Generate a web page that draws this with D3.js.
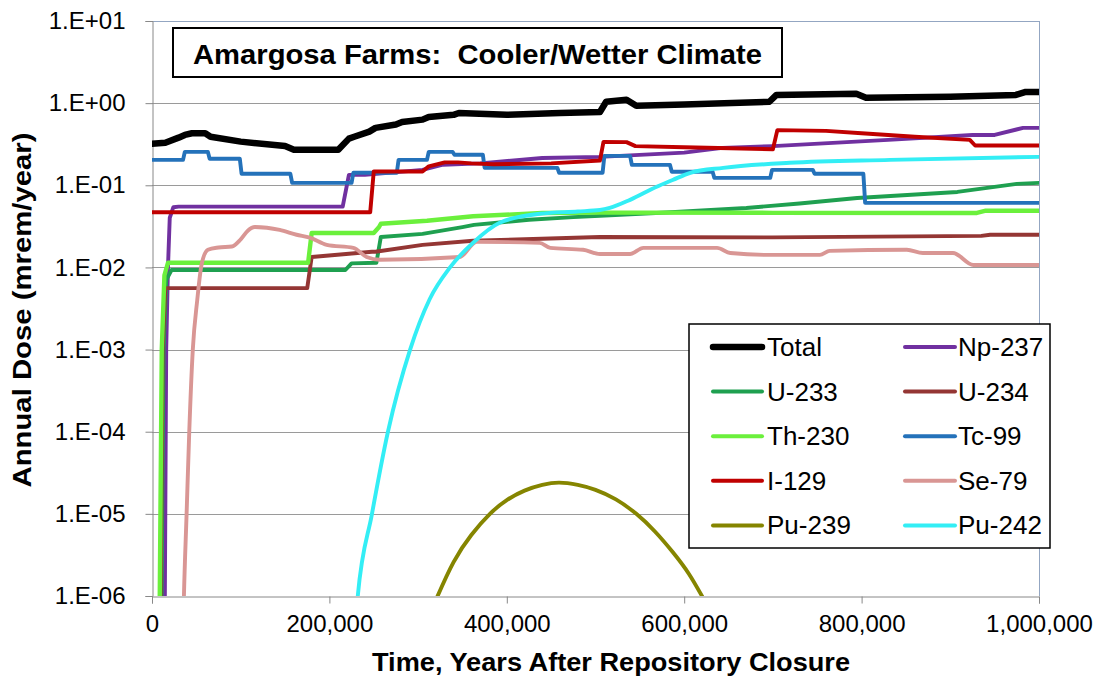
<!DOCTYPE html>
<html><head><meta charset="utf-8">
<script src="https://cdn.jsdelivr.net/npm/d3@7"></script>
<style>
html,body{margin:0;padding:0;background:#fff;}
svg{display:block;font-family:Arial,"Liberation Sans",sans-serif;}
text{white-space:pre;}
</style></head>
<body>
<svg id="chart" width="1105" height="681"></svg>
<script>
// ---------- DATA (years after closure, annual dose mrem/yr) ----------
const seriesNames = ["Total","Np-237","U-233","U-234","Th-230","Tc-99","I-129","Se-79","Pu-239","Pu-242"];
const totalDose = [[0,0.32],[15e3,0.33],[30e3,0.38],[37e3,0.41],[45e3,0.43],[60e3,0.43],[66e3,0.39],[100e3,0.34],[150e3,0.30],[160e3,0.27],[210e3,0.27],[222e3,0.37],[228e3,0.39],[245e3,0.45],[252e3,0.50],[275e3,0.55],[282e3,0.59],[305e3,0.63],[312e3,0.68],[340e3,0.72],[346e3,0.76],[400e3,0.72],[460e3,0.76],[505e3,0.78],[512e3,1.04],[535e3,1.10],[546e3,0.93],[600e3,0.96],[696e3,1.04],[704e3,1.26],[794e3,1.30],[805e3,1.16],[900e3,1.20],[974e3,1.26],[985e3,1.37],[1000e3,1.37]];
const np237Dose = [[14e3,1e-7],[16e3,1e-3],[18e3,0.01],[20e3,0.04],[24e3,0.054],[30e3,0.055],[215e3,0.055],[222e3,0.134],[240e3,0.134],[305e3,0.154],[328e3,0.178],[370e3,0.185],[440e3,0.215],[505e3,0.222],[600e3,0.25],[643e3,0.285],[700e3,0.30],[830e3,0.357],[925e3,0.41],[950e3,0.41],[982e3,0.5],[1000e3,0.5]];
const u233Dose = [[10e3,1e-7],[13e3,1e-3],[16e3,0.007],[22e3,0.0093],[218e3,0.0093],[225e3,0.0112],[253e3,0.0114],[258e3,0.0235],[305e3,0.0256],[350e3,0.031],[363e3,0.033],[425e3,0.038],[475e3,0.041],[505e3,0.0424],[585e3,0.047],[670e3,0.053],[730e3,0.06],[795e3,0.07],[908e3,0.083],[975e3,0.104],[1000e3,0.107]];
const u234Dose = [[9e3,1e-7],[12e3,1e-3],[15e3,0.0056],[175e3,0.0056],[180e3,0.0134],[248e3,0.0155],[252e3,0.0155],[305e3,0.0188],[362e3,0.0211],[505e3,0.0235],[700e3,0.0232],[935e3,0.0242],[945e3,0.025],[1000e3,0.025]];
const th230Dose = [[8e3,1e-7],[11e3,1e-3],[14e3,0.008],[18e3,0.0114],[176e3,0.0114],[180e3,0.0263],[250e3,0.0263],[256e3,0.031],[258e3,0.034],[310e3,0.037],[362e3,0.042],[440e3,0.046],[505e3,0.0465],[700e3,0.0462],[930e3,0.046],[940e3,0.049],[1000e3,0.049]];
const tc99Dose = [[0,0.204],[35e3,0.204],[37e3,0.255],[63e3,0.255],[65e3,0.21],[99e3,0.21],[101e3,0.138],[156e3,0.138],[158e3,0.107],[225e3,0.107],[227e3,0.142],[276e3,0.142],[278e3,0.204],[310e3,0.204],[312e3,0.255],[339e3,0.255],[341e3,0.235],[373e3,0.235],[375e3,0.163],[457e3,0.163],[459e3,0.142],[508e3,0.142],[510e3,0.228],[539e3,0.228],[541e3,0.177],[584e3,0.177],[586e3,0.146],[632e3,0.146],[634e3,0.123],[697e3,0.123],[699e3,0.154],[745e3,0.154],[747e3,0.138],[802e3,0.138],[804e3,0.061],[1000e3,0.061]];
const i129Dose = [[0,0.047],[246e3,0.047],[250e3,0.147],[305e3,0.147],[312e3,0.17],[330e3,0.19],[345e3,0.19],[360e3,0.185],[385e3,0.18],[450e3,0.185],[505e3,0.2],[509e3,0.338],[535e3,0.335],[545e3,0.30],[600e3,0.29],[700e3,0.275],[705e3,0.47],[760e3,0.46],[800e3,0.43],[860e3,0.39],[922e3,0.357],[928e3,0.305],[1000e3,0.305]];
const se79Dose = [[34e3,1e-7],[36e3,1e-6],[39e3,1e-5],[42e3,1e-4],[46e3,1e-3],[51e3,0.004],[56e3,0.011],[63e3,0.0164],[75e3,0.0175],[90e3,0.018],[100e3,0.022],[108e3,0.028],[116e3,0.031],[144e3,0.0286],[163e3,0.025],[178e3,0.023],[197e3,0.0188],[227e3,0.0173],[242e3,0.0134],[257e3,0.0124],[347e3,0.0134],[366e3,0.0205],[437e3,0.0199],[449e3,0.0173],[486e3,0.0164],[505e3,0.0146],[539e3,0.0146],[554e3,0.0173],[637e3,0.0173],[652e3,0.015],[697e3,0.0142],[753e3,0.0142],[764e3,0.0159],[851e3,0.0164],[869e3,0.015],[903e3,0.015],[926e3,0.0107],[1000e3,0.0107]];
const pu239Dose = [[310e3,5.0e-7],[322e3,1.0e-6],[340e3,2.59e-6],[360e3,5.53e-6],[381e3,1.0e-5],[400e3,1.47e-5],[420e3,1.92e-5],[440e3,2.25e-5],[459e3,2.40e-5],[480e3,2.25e-5],[500e3,1.96e-5],[523e3,1.50e-5],[546e3,1.0e-5],[567e3,6.1e-6],[587e3,3.43e-6],[605e3,1.88e-6],[620e3,1.0e-6],[632e3,5.9e-7]];
const pu242Dose = [[225e3,1e-7],[232e3,1e-6],[248e3,1e-5],[266e3,1e-4],[291e3,1e-3],[313e3,0.0041],[336e3,0.01],[362e3,0.02],[392e3,0.035],[437e3,0.045],[480e3,0.048],[505e3,0.05],[516e3,0.053],[539e3,0.0665],[569e3,0.096],[587e3,0.116],[607e3,0.142],[644e3,0.163],[719e3,0.188],[832e3,0.204],[1000e3,0.222]];
const xTickValues = [0,200000,400000,600000,800000,1000000];
const yTickValues = [10,1,0.1,0.01,0.001,0.0001,0.00001,0.000001];
const yTickLabels = ["1.E+01","1.E+00","1.E-01","1.E-02","1.E-03","1.E-04","1.E-05","1.E-06"];
const chartTitle = "Amargosa Farms:  Cooler/Wetter Climate";
const xAxisTitle = "Time, Years After Repository Closure";
const yAxisTitle = "Annual Dose (mrem/year)";

// ---------- STYLE ----------
const seriesData = {"Total":totalDose,"Np-237":np237Dose,"U-233":u233Dose,"U-234":u234Dose,"Th-230":th230Dose,"Tc-99":tc99Dose,"I-129":i129Dose,"Se-79":se79Dose,"Pu-239":pu239Dose,"Pu-242":pu242Dose};
const colors = {"Total":"#000000","Np-237":"#7030A0","U-233":"#1FA050","U-234":"#943634","Th-230":"#6BF03C","Tc-99":"#2472BA","I-129":"#C00000","Se-79":"#D99694","Pu-239":"#858500","Pu-242":"#33EEF5"};
const curves = {"Se-79":d3.curveMonotoneX,"Pu-239":d3.curveNatural,"Pu-242":d3.curveMonotoneX};

const svg = d3.select("#chart");
const L=152, R=1039, T=21, B=596;
const x = d3.scaleLinear().domain([0,1e6]).range([L,R]);
const y = d3.scaleLog().domain([1e-6,10]).range([B,T]);

// gridlines
svg.append("g").selectAll("line").data(yTickValues.slice(1,-1)).join("line")
  .attr("x1",L).attr("x2",R).attr("y1",d=>Math.round(y(d))+0.5).attr("y2",d=>Math.round(y(d))+0.5)
  .attr("stroke","#9a9a9a").attr("stroke-width",1);
// plot border top/right
svg.append("line").attr("x1",L).attr("x2",R+0.5).attr("y1",T+0.5).attr("y2",T+0.5).attr("stroke","#93A6C2");
svg.append("line").attr("x1",R+0.5).attr("x2",R+0.5).attr("y1",T).attr("y2",B).attr("stroke","#93A6C2");

// axes
const yAxis = d3.axisLeft(y).tickValues(yTickValues).tickFormat((d,i)=>yTickLabels[i]).tickSize(7).tickPadding(20);
const gy = svg.append("g").attr("transform",`translate(${L+0.5},0)`).call(yAxis);
gy.select(".domain").attr("stroke","#888");
gy.selectAll(".tick line").attr("stroke","#888");
gy.selectAll(".tick text").attr("font-size",24).attr("fill","#000").attr("font-family","Arial,'Liberation Sans',sans-serif");

const xAxis = d3.axisBottom(x).tickValues(xTickValues).tickFormat(d3.format(",")).tickSize(7).tickPadding(11);
const gx = svg.append("g").attr("transform",`translate(0,${B+0.5})`).call(xAxis);
gx.select(".domain").attr("stroke","#888");
gx.selectAll(".tick line").attr("stroke","#888");
gx.selectAll(".tick text").attr("font-size",24).attr("fill","#000").attr("font-family","Arial,'Liberation Sans',sans-serif");

// clip
svg.append("clipPath").attr("id","plotclip").append("rect").attr("x",L).attr("y",T).attr("width",R-L).attr("height",B-T);

const lineGen = (s) => d3.line().x(d=>x(d[0])).y(d=>y(d[1])).curve(curves[s]||d3.curveLinear);
const order = ["Np-237","U-233","U-234","Th-230","Tc-99","I-129","Se-79","Pu-239","Pu-242","Total"];
const gl = svg.append("g").attr("clip-path","url(#plotclip)");
order.forEach(s=>{
  gl.append("path").attr("d",lineGen(s)(seriesData[s])).attr("fill","none")
    .attr("stroke",colors[s]).attr("stroke-width", s==="Total"?6.5:(s==="Th-230"?4.4:3.9))
    .attr("stroke-linejoin","round").attr("stroke-linecap","round");
});

// title box
svg.append("rect").attr("x",173).attr("y",28).attr("width",609).attr("height",49).attr("fill","#fff").attr("stroke","#000").attr("stroke-width",2);
svg.append("text").attr("x",477.5).attr("y",64).attr("text-anchor","middle").attr("font-size",28).attr("font-weight","bold")
  .attr("textLength",569).attr("lengthAdjust","spacingAndGlyphs").attr("xml:space","preserve").text(chartTitle);

// axis titles
svg.append("text").attr("x",611).attr("y",671).attr("text-anchor","middle").attr("font-size",26).attr("font-weight","bold")
  .attr("textLength",478).attr("lengthAdjust","spacingAndGlyphs").text(xAxisTitle);
svg.append("text").attr("transform","translate(31,310) rotate(-90)").attr("text-anchor","middle").attr("font-size",25).attr("font-weight","bold")
  .attr("textLength",355).attr("lengthAdjust","spacingAndGlyphs").text(yAxisTitle);

// legend
const lg = svg.append("g");
lg.append("rect").attr("x",689).attr("y",324).attr("width",361).attr("height",224).attr("fill","#fff").attr("stroke","#000").attr("stroke-width",1.5);
seriesNames.forEach((s,i)=>{
  const col = i%2, row = Math.floor(i/2);
  const cy = 347 + row*44.6;
  const x0 = col===0?713:905, x1 = col===0?762:955, tx = col===0?767:958;
  lg.append("line").attr("x1",x0).attr("x2",x1).attr("y1",cy).attr("y2",cy).attr("stroke",colors[s])
    .attr("stroke-width", s==="Total"?6.5:4).attr("stroke-linecap","round");
  lg.append("text").attr("x",tx).attr("y",cy+9).attr("font-size",26).attr("fill","#000").text(s);
});
</script>
</body></html>
